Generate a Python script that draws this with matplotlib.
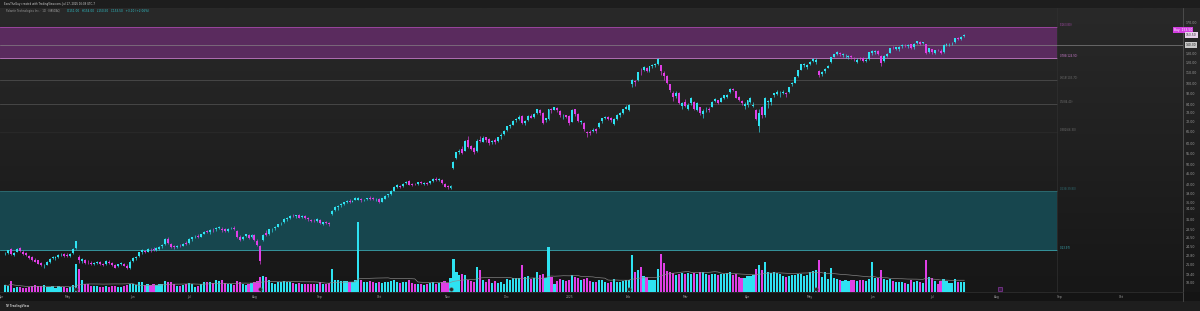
import numpy as np
import pandas as pd
import matplotlib
matplotlib.use("Agg")
import matplotlib.pyplot as plt
from matplotlib.transforms import blended_transform_factory

# --- Configuration ---
W, H = 1200, 311
UP = "#2ee3f2"
DOWN = "#e03fe6"
PLOT_RIGHT = 1183      # px, price scale starts here
PLOT_TOP, PLOT_BOT = 8, 292
PX_PER_BAR = 2.97
FIRST_BAR_PX = 5

# --- Daily bars: (open, high, low, close, volume in millions) ---
apr_2024 = [
    (23.3, 23.6, 22.9, 23.4, 35), (23.3, 24.0, 23.1, 23.9, 30), (24.1, 24.3, 23.0, 23.1, 53),
    (23.0, 23.5, 22.8, 23.4, 22), (23.6, 24.4, 23.5, 24.2, 25), (24.3, 24.6, 23.6, 23.8, 24),
    (23.5, 23.9, 23.0, 23.2, 20), (23.3, 23.6, 22.7, 23.0, 18), (22.8, 23.0, 22.2, 22.4, 25),
    (22.6, 22.8, 21.8, 21.9, 30), (21.9, 22.3, 21.6, 21.7, 33), (21.9, 22.0, 21.2, 21.3, 28),
    (21.4, 21.6, 20.8, 21.0, 30), (20.9, 21.2, 20.5, 20.9, 33), (21.1, 21.8, 21.0, 21.6, 25),
    (21.7, 22.3, 21.5, 22.1, 24), (22.3, 22.8, 22.1, 22.6, 28), (22.4, 22.8, 22.0, 22.5, 22),
    (22.6, 23.2, 22.4, 23.0, 28), (23.1, 23.4, 22.8, 23.2, 25), (23.1, 23.3, 22.6, 22.8, 24),
]
may_2024 = [
    (22.9, 23.3, 22.5, 22.7, 22), (22.8, 23.4, 22.6, 23.2, 25), (23.3, 24.4, 23.2, 24.2, 35),
    (24.3, 26.0, 24.2, 25.8, 140), (22.5, 22.9, 21.5, 21.9, 115), (21.8, 22.3, 21.4, 22.1, 60),
    (22.0, 22.2, 21.3, 21.5, 40), (21.5, 21.9, 21.2, 21.4, 38), (21.5, 21.8, 21.0, 21.2, 30),
    (21.3, 21.6, 21.0, 21.4, 28), (21.5, 21.8, 21.2, 21.7, 30), (21.6, 21.8, 21.1, 21.2, 26),
    (21.2, 21.4, 20.9, 21.1, 25), (21.2, 21.9, 21.1, 21.8, 30), (21.7, 21.9, 21.3, 21.4, 26),
    (21.5, 21.7, 20.9, 21.0, 28), (21.1, 21.3, 20.5, 20.6, 32), (20.8, 21.3, 20.7, 21.2, 24),
    (21.3, 21.7, 21.0, 21.5, 26), (21.3, 21.5, 20.8, 20.9, 28), (20.9, 21.2, 20.3, 20.5, 34),
    (20.6, 21.9, 20.4, 21.7, 42),
]
jun_2024 = [
    (21.8, 22.5, 21.6, 22.3, 40), (22.4, 22.8, 22.0, 22.6, 35), (22.8, 23.6, 22.6, 23.5, 50),
    (23.5, 24.2, 23.2, 23.9, 48), (23.8, 24.0, 23.3, 23.5, 36), (23.6, 24.3, 23.5, 24.1, 40),
    (24.0, 24.4, 23.6, 23.9, 34), (24.2, 24.6, 23.8, 24.0, 38), (24.0, 24.5, 23.7, 24.3, 35),
    (24.2, 24.8, 24.0, 24.6, 40), (24.7, 25.2, 24.4, 25.0, 42), (25.2, 26.5, 25.1, 26.3, 55),
    (26.4, 26.8, 25.2, 25.4, 52), (25.2, 25.5, 24.4, 24.6, 48), (24.7, 25.0, 24.2, 24.5, 38),
    (24.6, 25.1, 24.4, 24.9, 32), (24.9, 25.2, 24.5, 24.8, 30), (24.9, 25.5, 24.8, 25.3, 34),
    (25.5, 25.9, 25.1, 25.3, 40),
]
jul_2024 = [
    (25.5, 26.6, 25.3, 26.4, 45), (26.3, 26.9, 26.0, 26.7, 38), (26.8, 27.2, 26.6, 26.9, 25),
    (27.0, 27.4, 26.6, 26.8, 30), (26.9, 27.6, 26.7, 27.5, 42), (27.6, 28.3, 27.4, 28.1, 50),
    (28.2, 28.5, 27.7, 28.0, 48), (27.9, 28.6, 27.6, 28.4, 52), (28.5, 28.9, 28.1, 28.4, 45),
    (28.6, 29.3, 28.3, 28.9, 58), (29.0, 29.5, 28.6, 29.1, 55), (28.8, 29.2, 28.1, 28.5, 60),
    (28.6, 29.0, 28.0, 28.3, 45), (28.3, 28.9, 28.0, 28.7, 40), (28.9, 29.3, 28.6, 29.0, 38),
    (29.0, 29.4, 28.5, 28.7, 36), (28.2, 28.4, 26.6, 26.8, 55), (26.7, 27.2, 25.8, 26.2, 52),
    (26.4, 27.0, 26.1, 26.9, 40), (27.0, 27.6, 26.8, 27.4, 36), (27.3, 27.5, 26.4, 26.6, 40),
    (26.8, 27.5, 26.6, 27.2, 45),
]
aug_2024 = [
    (27.3, 27.6, 25.9, 26.2, 50), (26.0, 26.4, 24.8, 25.1, 55), (24.9, 25.0, 21.3, 21.8, 75),
    (26.2, 27.6, 25.9, 27.3, 80), (27.8, 28.4, 27.0, 27.3, 76), (27.6, 28.8, 27.3, 28.6, 60),
    (28.6, 29.0, 28.1, 28.7, 45), (28.9, 29.4, 28.5, 29.2, 42), (29.3, 30.0, 29.1, 29.9, 50),
    (30.0, 30.5, 29.6, 30.1, 48), (30.4, 31.5, 30.2, 31.3, 55), (31.2, 31.8, 30.9, 31.5, 48),
    (31.6, 32.3, 31.3, 32.1, 50), (32.2, 32.6, 31.8, 32.0, 45), (32.1, 32.5, 31.6, 32.3, 42),
    (32.4, 32.6, 31.5, 31.7, 45), (31.9, 32.3, 31.6, 32.1, 38), (32.2, 32.4, 31.3, 31.5, 40),
    (31.5, 31.8, 30.9, 31.2, 38), (31.1, 31.4, 30.4, 30.7, 42), (30.9, 31.3, 30.5, 30.8, 38),
    (30.9, 31.6, 30.6, 31.4, 40),
]
sep_2024 = [
    (31.0, 31.2, 30.0, 30.2, 48), (30.1, 30.6, 29.8, 30.4, 40), (30.5, 30.9, 30.0, 30.2, 38),
    (30.3, 30.6, 29.5, 29.9, 45), (32.8, 33.9, 32.5, 33.6, 115), (33.8, 35.0, 33.5, 34.8, 62),
    (34.6, 35.2, 33.9, 35.0, 58), (35.2, 35.8, 34.8, 35.5, 55), (35.6, 36.3, 35.3, 36.1, 56),
    (36.2, 36.9, 35.8, 36.5, 55), (36.7, 37.2, 36.0, 36.3, 50), (36.4, 37.0, 36.1, 36.6, 50),
    (37.0, 37.8, 36.8, 37.5, 60), (37.0, 37.9, 36.9, 37.6, 350), (37.3, 37.6, 36.4, 36.8, 60),
    (36.9, 37.3, 36.5, 37.0, 52), (37.1, 37.6, 36.8, 37.4, 50), (37.6, 38.1, 37.0, 37.3, 55),
    (37.5, 37.9, 36.9, 37.2, 48), (37.1, 37.5, 36.7, 37.2, 45),
]
oct_2024 = [
    (37.3, 37.5, 35.9, 36.3, 50), (36.4, 37.6, 36.2, 37.4, 45), (37.3, 38.4, 37.1, 38.2, 48),
    (38.5, 39.0, 38.0, 38.7, 50), (38.8, 40.2, 38.6, 39.9, 55), (40.0, 41.5, 39.8, 41.2, 58),
    (41.4, 42.2, 40.9, 41.8, 52), (41.6, 42.0, 40.8, 41.3, 45), (41.5, 42.6, 41.3, 42.4, 50),
    (42.6, 43.5, 42.3, 43.2, 52), (43.4, 43.8, 41.8, 42.1, 58), (42.2, 42.6, 41.5, 41.9, 45),
    (42.3, 42.8, 41.9, 42.2, 40), (42.4, 43.2, 42.1, 42.9, 42), (42.9, 43.4, 42.3, 42.6, 38),
    (42.4, 43.0, 42.0, 42.8, 36), (42.6, 42.9, 41.8, 42.3, 40), (42.6, 43.5, 42.4, 43.3, 45),
    (43.6, 44.4, 43.2, 44.1, 50), (44.3, 44.8, 43.6, 43.9, 42), (44.0, 44.6, 43.4, 44.3, 45),
    (44.0, 44.3, 42.5, 42.8, 50), (42.4, 42.7, 41.2, 41.4, 55),
]
nov_2024 = [
    (41.5, 42.0, 40.7, 41.2, 45), (41.0, 41.9, 40.6, 41.5, 70), (48.6, 51.4, 48.3, 51.1, 165),
    (53.0, 55.9, 52.5, 55.6, 100), (55.9, 57.0, 54.8, 56.2, 85), (57.0, 58.5, 54.7, 55.4, 90),
    (56.5, 61.6, 56.2, 61.1, 85), (61.6, 64.3, 57.5, 58.3, 60), (58.7, 59.5, 56.6, 57.4, 55),
    (57.8, 58.2, 55.0, 55.6, 50), (56.4, 62.3, 56.0, 61.2, 125), (62.0, 64.2, 60.6, 61.4, 110),
    (61.0, 63.8, 60.8, 63.2, 60), (63.4, 63.6, 60.7, 61.8, 50), (62.2, 62.8, 59.2, 60.5, 65),
    (61.0, 62.0, 59.7, 61.4, 45), (61.9, 63.0, 60.0, 60.6, 55), (61.2, 63.7, 61.0, 63.4, 45),
    (63.8, 65.5, 62.6, 64.5, 50), (64.9, 67.3, 64.6, 67.1, 40),
]
dec_2024 = [
    (67.6, 70.0, 67.0, 69.6, 65), (69.8, 71.0, 68.4, 70.1, 60), (70.5, 73.5, 70.2, 73.1, 70),
    (73.5, 75.0, 72.5, 73.9, 72), (74.2, 76.5, 73.5, 75.6, 70), (76.0, 76.6, 70.8, 71.5, 135),
    (71.8, 73.5, 70.5, 72.9, 75), (73.5, 76.8, 73.0, 76.4, 80), (76.2, 77.5, 74.6, 75.0, 65),
    (75.5, 78.0, 75.0, 77.5, 70), (78.0, 81.0, 77.5, 80.5, 100), (80.0, 80.6, 76.5, 78.3, 85),
    (78.0, 78.9, 71.3, 71.8, 90), (73.5, 75.0, 72.0, 74.5, 70), (74.0, 81.0, 73.6, 80.6, 225),
    (80.5, 81.5, 78.3, 80.1, 75), (80.3, 82.4, 79.8, 82.4, 40), (81.5, 82.0, 78.8, 80.2, 55),
    (79.5, 80.0, 75.3, 76.7, 65), (75.8, 77.5, 74.2, 76.0, 60), (76.5, 77.0, 74.8, 75.6, 55),
]
jan_2025 = [
    (76.0, 76.5, 70.5, 71.7, 60), (72.5, 80.5, 72.3, 79.9, 85), (80.5, 81.0, 76.0, 77.2, 75),
    (77.5, 78.0, 72.0, 73.0, 70), (72.5, 73.8, 70.8, 72.6, 60), (71.8, 72.3, 67.0, 67.8, 65),
    (66.5, 67.0, 63.4, 65.6, 70), (66.2, 67.5, 64.8, 65.6, 55), (66.8, 68.5, 66.2, 67.7, 50),
    (68.0, 68.6, 65.5, 67.0, 48), (69.0, 72.5, 68.6, 71.8, 60), (72.8, 75.0, 71.5, 74.5, 58),
    (75.0, 76.4, 74.2, 75.4, 52), (75.2, 75.8, 73.3, 74.3, 45), (74.5, 75.2, 72.5, 73.3, 48),
    (71.0, 74.5, 70.5, 74.0, 65), (74.3, 77.2, 73.5, 76.8, 52), (76.5, 78.5, 75.5, 77.9, 48),
    (78.3, 81.0, 77.6, 80.7, 55), (81.0, 83.7, 80.5, 82.5, 60),
]
feb_2025 = [
    (80.0, 84.5, 79.5, 83.7, 60), (100.5, 104.5, 98.0, 103.8, 185), (103.0, 104.0, 98.6, 101.7, 100),
    (103.5, 111.5, 103.0, 111.3, 110), (112.0, 115.0, 108.0, 111.8, 125), (113.5, 117.0, 112.0, 116.5, 80),
    (115.0, 116.0, 111.5, 112.5, 75), (112.0, 117.5, 111.0, 117.4, 60), (117.5, 119.0, 115.0, 117.9, 58),
    (118.5, 120.0, 116.5, 119.2, 60), (119.5, 125.4, 118.5, 124.6, 115), (118.0, 118.5, 108.0, 112.3, 190),
    (110.5, 112.0, 103.5, 107.6, 145), (107.0, 108.5, 100.0, 101.4, 105), (100.0, 100.5, 93.5, 94.8, 100),
    (93.0, 94.0, 86.5, 89.3, 95), (90.5, 94.5, 88.5, 92.7, 85), (93.0, 93.5, 84.5, 84.8, 90),
    (83.0, 85.5, 80.5, 84.8, 95),
]
mar_2025 = [
    (86.0, 88.0, 82.5, 83.0, 90), (81.0, 85.0, 80.0, 84.0, 95), (85.0, 89.5, 84.0, 88.5, 90),
    (86.0, 86.5, 80.0, 80.5, 95), (80.0, 85.5, 79.5, 84.9, 90), (82.0, 82.5, 77.0, 77.8, 100),
    (77.5, 81.0, 74.5, 79.5, 98), (81.5, 82.5, 79.0, 81.5, 88), (81.0, 82.0, 78.5, 80.0, 85),
    (82.5, 86.5, 82.0, 86.2, 92), (86.5, 88.5, 85.5, 88.0, 90), (87.0, 87.5, 84.5, 85.0, 85),
    (86.0, 89.5, 85.5, 89.0, 90), (88.5, 91.5, 88.0, 91.0, 92), (89.5, 92.0, 88.5, 91.0, 95),
    (93.5, 96.5, 93.0, 96.0, 98), (96.0, 97.0, 94.0, 94.8, 85), (94.0, 94.5, 88.5, 89.0, 88),
    (89.5, 90.5, 86.5, 87.0, 75), (86.5, 87.0, 84.0, 85.0, 70), (83.0, 85.5, 81.0, 84.4, 72),
]
apr_2025 = [
    (83.5, 87.5, 82.5, 87.0, 80), (85.5, 90.0, 85.0, 88.9, 80), (83.0, 86.0, 82.0, 83.6, 85),
    (80.0, 80.5, 73.5, 74.0, 115), (70.0, 80.5, 66.1, 77.8, 135), (82.0, 83.0, 75.0, 77.0, 110),
    (76.5, 90.0, 75.5, 88.6, 150), (86.0, 87.5, 81.5, 86.0, 100), (85.5, 89.0, 84.0, 88.6, 95),
    (91.0, 93.0, 89.5, 92.6, 100), (92.0, 95.0, 91.5, 93.8, 95), (92.5, 94.0, 90.0, 92.6, 90),
    (93.0, 95.0, 92.0, 93.8, 80), (92.5, 93.5, 90.0, 92.0, 75), (93.5, 98.0, 93.0, 97.7, 80),
    (100.0, 102.0, 98.5, 101.0, 85), (101.5, 106.5, 101.0, 106.3, 85), (107.0, 113.0, 106.5, 112.8, 90),
    (113.5, 119.0, 113.0, 118.6, 88), (118.0, 120.0, 116.5, 119.2, 80), (116.5, 119.0, 114.5, 118.4, 85),
]
may_2025 = [
    (119.5, 122.0, 118.0, 121.5, 100), (122.5, 125.0, 121.0, 124.3, 105), (121.0, 125.0, 119.5, 123.8, 110),
    (112.0, 113.0, 106.5, 108.1, 160), (109.0, 112.0, 107.0, 110.8, 75), (112.0, 115.0, 110.5, 114.0, 100),
    (115.5, 118.5, 115.0, 117.0, 65), (121.0, 127.0, 120.5, 126.6, 120), (127.0, 130.0, 126.0, 129.5, 70),
    (129.5, 133.0, 128.5, 131.8, 65), (131.0, 132.0, 127.5, 130.0, 58), (129.0, 130.5, 127.0, 129.5, 55),
    (127.5, 129.5, 125.0, 127.6, 60), (127.0, 129.0, 124.5, 128.0, 55), (127.5, 128.5, 124.5, 126.0, 58),
    (125.5, 127.0, 122.5, 125.0, 60), (121.0, 125.0, 120.5, 123.3, 55), (125.5, 127.0, 123.5, 125.0, 62),
    (125.5, 126.5, 121.5, 122.0, 58), (122.5, 125.0, 121.0, 123.0, 55), (124.0, 132.5, 123.5, 131.8, 65),
]
jun_2025 = [
    (131.0, 134.0, 129.0, 133.2, 150), (132.5, 134.5, 130.0, 132.5, 70), (133.5, 134.0, 128.5, 129.5, 68),
    (128.0, 128.5, 117.5, 119.9, 110), (122.0, 128.5, 121.5, 127.7, 65), (127.5, 131.0, 126.5, 129.5, 62),
    (131.0, 136.5, 130.5, 136.3, 65), (137.0, 138.5, 135.0, 136.7, 55), (136.0, 138.0, 134.5, 137.4, 48),
    (135.0, 139.0, 133.5, 137.4, 50), (138.5, 141.0, 137.0, 140.2, 52), (139.5, 141.5, 137.5, 138.5, 45),
    (138.5, 141.0, 137.0, 140.0, 42), (141.0, 142.0, 135.5, 137.3, 58), (137.5, 142.5, 136.0, 141.4, 50),
    (142.5, 145.5, 141.5, 144.8, 55), (144.0, 145.0, 140.5, 142.0, 48), (142.5, 144.5, 141.0, 143.6, 45),
    (141.0, 142.0, 129.5, 130.7, 160), (132.5, 137.0, 131.5, 136.3, 75),
]
jul_2025 = [
    (135.5, 136.0, 129.5, 132.0, 70), (131.5, 134.5, 130.0, 134.0, 55), (134.5, 136.0, 133.0, 134.4, 40),
    (133.5, 135.0, 130.0, 131.4, 55), (132.0, 141.0, 131.5, 140.5, 65), (140.5, 142.5, 138.5, 141.4, 55),
    (141.0, 143.0, 139.5, 142.0, 45), (141.5, 143.5, 140.0, 142.1, 45), (143.5, 149.0, 143.0, 148.6, 65),
    (148.5, 150.0, 146.5, 148.3, 50), (148.0, 151.0, 146.0, 150.4, 50), (151.0, 154.0, 150.5, 153.5, 50),
]

# NYSE holidays inside the calendar span
holidays = ["2024-05-27", "2024-06-19", "2024-07-04", "2024-09-02", "2024-11-28",
            "2024-12-25", "2025-01-01", "2025-01-09", "2025-01-20", "2025-02-17",
            "2025-04-18", "2025-05-26", "2025-06-19", "2025-07-04", "2025-09-01"]
earnings_dates = ["2024-05-06", "2024-08-05", "2024-11-04", "2025-02-03", "2025-05-05"]
next_earnings = "2025-08-04"

# drawn levels (price, label, line colour)
level_prices = [163.8, 124.9, 103.7, 84.4, 66.3, 39.8, 23.97]
level_names = ["1", "0.786", "0.618", "0.5", "0.382", "0.236", "0"]
level_colors = ["#a24aa6", "#c77ac9", "#4c4c4c", "#4c4c4c", "#2a2a2a", "#2f6e74", "#3aa8b2"]
hline_price = 140.3

axis_prices = [170, 130, 120, 110, 100, 92, 84, 78, 72, 66, 60, 55, 50, 46, 42, 39,
               36, 34, 31, 28.5, 26.5, 24.5, 22.8, 21, 19.4, 18]

# --- Build frame ---
months = [apr_2024, may_2024, jun_2024, jul_2024, aug_2024, sep_2024, oct_2024, nov_2024,
          dec_2024, jan_2025, feb_2025, mar_2025, apr_2025, may_2025, jun_2025, jul_2025]
df = pd.DataFrame([b for m in months for b in m], columns=["open", "high", "low", "close", "vol"])

days = pd.bdate_range("2024-04-01", "2025-10-31")
days = days[~days.isin(pd.to_datetime(holidays))]
pos = np.arange(len(days)) - 1          # Apr 1 2024 sits at -1, first bar (Apr 2) at 0
day_pos = dict(zip(days, pos))
df["x"] = pos[1:1 + len(df)]
df["date"] = days[1:1 + len(df)]

up = df["close"] >= df["open"]
colors = np.where(up, UP, DOWN)

x_left = -FIRST_BAR_PX / PX_PER_BAR
x_right = (PLOT_RIGHT - FIRST_BAR_PX) / PX_PER_BAR
zone_end = (1057 - FIRST_BAR_PX) / PX_PER_BAR


def ln_price(py):
    # pixel row -> price on the chart's log scale
    return np.exp(5.03 - (py - 35) / 116.0)


def price_axes(rect):
    a = fig.add_axes(rect)
    a.set_yscale("log")
    a.set_xlim(x_left, x_right)
    a.set_ylim(ln_price(PLOT_BOT), ln_price(PLOT_TOP))
    a.axis("off")
    return a


# --- Figure ---
fig = plt.figure(figsize=(W / 100, H / 100), dpi=100)
fig.patch.set_facecolor("#1c1c1c")

bg = fig.add_axes([0, 0, 1, 1])
bg.set_xlim(0, W)
bg.set_ylim(H, 0)
bg.axis("off")
grad = np.linspace(0, 1, 256)[:, None]
bg.imshow(grad, cmap=matplotlib.colors.LinearSegmentedColormap.from_list("bg", ["#292929", "#171717"]),
          extent=[0, W, PLOT_BOT, PLOT_TOP], aspect="auto")
bg.add_patch(plt.Rectangle((0, 0), W, PLOT_TOP, color="#1d1d1d", lw=0))
bg.add_patch(plt.Rectangle((0, PLOT_BOT), W, 9, color="#141414", lw=0))
bg.add_patch(plt.Rectangle((0, PLOT_BOT + 9), W, H - PLOT_BOT - 9, color="#1e1e1e", lw=0))
bg.plot([PLOT_RIGHT, PLOT_RIGHT], [PLOT_TOP, PLOT_BOT + 9], color="#5a5a5a", lw=0.5)
bg.plot([0, PLOT_RIGHT], [PLOT_BOT, PLOT_BOT], color="#333333", lw=0.5)

bg.text(4, 3.5, "ExcuTheGuy created with TradingView.com, Jul 17, 2025 16:09 UTC-7",
        fontsize=1.9, color="#cfcfcf", va="center")
bg.text(6, 11, "Palantir Technologies Inc. \u00b7 1D \u00b7 NASDAQ", fontsize=1.9, color="#9a9a9a", va="center")
bg.text(67, 11, "O151.00   H154.00   L150.50   C153.50   +3.10 (+2.06%)", fontsize=2.1,
        color="#2fc4cc", va="center")
bg.text(5, 306, "TV TradingView", fontsize=2.0, color="#bdbdbd", va="center", fontweight="bold")

ax_rect = [0, (H - PLOT_BOT) / H, PLOT_RIGHT / W, (PLOT_BOT - PLOT_TOP) / H]

# zones and level lines (beneath volume)
axz = price_axes(ax_rect)
xmax_frac = (zone_end - x_left) / (x_right - x_left)
axz.axhspan(level_prices[1], level_prices[0], xmin=0, xmax=xmax_frac, color="#5a2b5e", lw=0)
axz.axhspan(level_prices[6], level_prices[5], xmin=0, xmax=xmax_frac, color="#17464e", lw=0)
for p, name, c in zip(level_prices, level_names, level_colors):
    axz.plot([x_left, zone_end], [p, p], color=c, lw=0.6)
    lab_c = c if c not in ("#2a2a2a", "#4c4c4c") else "#6e6e6e"
    axz.text(zone_end + 1.0, p, f"{name}({p:.2f})", fontsize=1.9, color=lab_c, va="bottom")
axz.plot([zone_end, zone_end], [ln_price(PLOT_BOT), ln_price(PLOT_TOP)], color="#303030", lw=0.5)
axz.axhline(hline_price, color="#8a8a8a", lw=0.45)

# volume pane
axv = fig.add_axes(ax_rect)
axv.set_xlim(x_left, x_right)
axv.set_ylim(0, (PLOT_BOT - PLOT_TOP) / 0.2)
axv.axis("off")
axv.bar(df["x"], df["vol"], width=0.72, color=colors, linewidth=0)
axv.plot(df["x"], df["vol"].rolling(20, min_periods=1).mean(), color="#8c8c8c", lw=0.45)
tv = blended_transform_factory(axv.transData, axv.transAxes)
ex = [day_pos[pd.Timestamp(d)] for d in earnings_dates]
axv.scatter(ex, [0.012] * len(ex), s=7, color="#2b2b2b", edgecolors="#6a6a6a", linewidths=0.3,
            transform=tv, zorder=5, clip_on=False)
axv.scatter([day_pos[pd.Timestamp(next_earnings)]], [0.012], s=9, marker="s", color="#3b1d44",
            edgecolors="#a040c0", linewidths=0.4, transform=tv, zorder=5, clip_on=False)

# candles
ax = price_axes(ax_rect)
body_lo = np.minimum(df["open"], df["close"])
body_h = np.maximum(np.abs(df["close"] - df["open"]), body_lo * 0.003)
ax.vlines(df["x"], df["low"], df["high"], colors=colors, lw=0.45, zorder=3)
ax.bar(df["x"], body_h, bottom=body_lo, width=0.66, color=colors, linewidth=0, zorder=4)

# price scale labels
ty = blended_transform_factory(ax.transAxes, ax.transData)
lx = (PLOT_RIGHT + 3) / PLOT_RIGHT
for p in axis_prices:
    ax.text(lx, p, f"{p:.2f}", transform=ty, fontsize=2.3, color="#9c9c9c", va="center", clip_on=False)
last = df["close"].iloc[-1]
ax.text(0.9925, ln_price(30), f"Buy  {last:.2f}", transform=ty, fontsize=2.2, color="white",
        va="center", clip_on=False, bbox=dict(boxstyle="square,pad=0.25", fc="#d33fe0", ec="none"))
ax.text(lx, ln_price(35), f"{last:.2f}", transform=ty, fontsize=2.2, color="#2a2a2a", va="center",
        clip_on=False, bbox=dict(boxstyle="square,pad=0.25", fc="#e6d3ea", ec="none"))
ax.text(lx, hline_price, f"{hline_price:.2f}", transform=ty, fontsize=2.2, color="#1c1c1c", va="center",
        clip_on=False, bbox=dict(boxstyle="square,pad=0.25", fc="#c8c8c8", ec="none"))

# month labels on the time axis
first_of_month = pd.Series(days).groupby([days.year, days.month]).first()
for d in first_of_month:
    lab = str(d.year) if d.month == 1 else d.strftime("%b")
    px = FIRST_BAR_PX + day_pos[d] * PX_PER_BAR
    if px < PLOT_RIGHT - 10:
        bg.text(px, 297, lab, fontsize=2.2, color="#9a9a9a", ha="center", va="center")

fig.savefig("out.png", dpi=100, facecolor=fig.get_facecolor())
